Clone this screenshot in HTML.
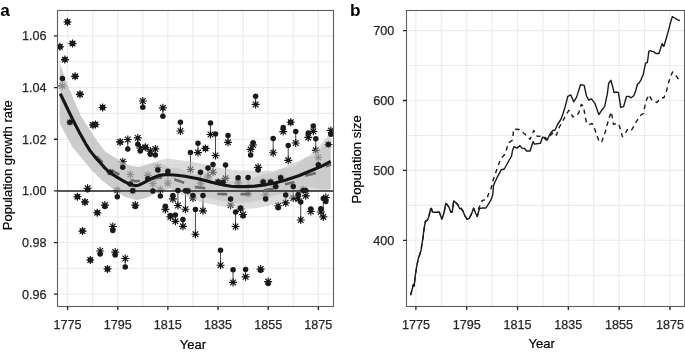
<!DOCTYPE html><html><head><meta charset="utf-8"><style>html,body{margin:0;padding:0;background:#fff;width:685px;height:352px;overflow:hidden}svg{display:block;filter:blur(0.35px)}</style></head><body>
<svg width="685" height="352" viewBox="0 0 685 352">
<rect width="685" height="352" fill="#fff"/>
<g stroke="#ebebeb" stroke-width="1.1" fill="none">
<line x1="67.60" y1="10.50" x2="67.60" y2="306.50"/>
<line x1="92.67" y1="10.50" x2="92.67" y2="306.50"/>
<line x1="117.74" y1="10.50" x2="117.74" y2="306.50"/>
<line x1="142.81" y1="10.50" x2="142.81" y2="306.50"/>
<line x1="167.88" y1="10.50" x2="167.88" y2="306.50"/>
<line x1="192.95" y1="10.50" x2="192.95" y2="306.50"/>
<line x1="218.02" y1="10.50" x2="218.02" y2="306.50"/>
<line x1="243.09" y1="10.50" x2="243.09" y2="306.50"/>
<line x1="268.16" y1="10.50" x2="268.16" y2="306.50"/>
<line x1="293.23" y1="10.50" x2="293.23" y2="306.50"/>
<line x1="318.30" y1="10.50" x2="318.30" y2="306.50"/>
<line x1="57.50" y1="294.22" x2="333.50" y2="294.22"/>
<line x1="57.50" y1="268.39" x2="333.50" y2="268.39"/>
<line x1="57.50" y1="242.56" x2="333.50" y2="242.56"/>
<line x1="57.50" y1="216.73" x2="333.50" y2="216.73"/>
<line x1="57.50" y1="190.90" x2="333.50" y2="190.90"/>
<line x1="57.50" y1="165.07" x2="333.50" y2="165.07"/>
<line x1="57.50" y1="139.24" x2="333.50" y2="139.24"/>
<line x1="57.50" y1="113.41" x2="333.50" y2="113.41"/>
<line x1="57.50" y1="87.58" x2="333.50" y2="87.58"/>
<line x1="57.50" y1="61.75" x2="333.50" y2="61.75"/>
<line x1="57.50" y1="35.92" x2="333.50" y2="35.92"/>
</g>
<g stroke="#ebebeb" stroke-width="1.1" fill="none">
<line x1="415.90" y1="10.50" x2="415.90" y2="306.50"/>
<line x1="441.30" y1="10.50" x2="441.30" y2="306.50"/>
<line x1="466.71" y1="10.50" x2="466.71" y2="306.50"/>
<line x1="492.12" y1="10.50" x2="492.12" y2="306.50"/>
<line x1="517.52" y1="10.50" x2="517.52" y2="306.50"/>
<line x1="542.92" y1="10.50" x2="542.92" y2="306.50"/>
<line x1="568.33" y1="10.50" x2="568.33" y2="306.50"/>
<line x1="593.74" y1="10.50" x2="593.74" y2="306.50"/>
<line x1="619.14" y1="10.50" x2="619.14" y2="306.50"/>
<line x1="644.54" y1="10.50" x2="644.54" y2="306.50"/>
<line x1="669.95" y1="10.50" x2="669.95" y2="306.50"/>
<line x1="406.50" y1="275.25" x2="684.50" y2="275.25"/>
<line x1="406.50" y1="240.30" x2="684.50" y2="240.30"/>
<line x1="406.50" y1="205.35" x2="684.50" y2="205.35"/>
<line x1="406.50" y1="170.40" x2="684.50" y2="170.40"/>
<line x1="406.50" y1="135.45" x2="684.50" y2="135.45"/>
<line x1="406.50" y1="100.50" x2="684.50" y2="100.50"/>
<line x1="406.50" y1="65.55" x2="684.50" y2="65.55"/>
<line x1="406.50" y1="30.60" x2="684.50" y2="30.60"/>
</g>
<defs><clipPath id="ca"><rect x="57.5" y="10.5" width="276.0" height="296.0"/></clipPath><clipPath id="cb"><rect x="406.5" y="10.5" width="278.0" height="296.0"/></clipPath></defs>
<g clip-path="url(#ca)">
<path d="M62.40,78.60L62.40,85.80M87.60,189.70L87.60,188.20M100.20,253.90L100.20,251.00M104.90,206.60L104.90,205.10M112.80,230.50L112.80,226.50M115.20,255.00L115.20,252.10M117.30,196.70L117.30,190.30M122.75,167.30L122.75,161.70M125.26,266.90L125.26,258.50M127.77,149.10L127.77,139.50M130.28,184.00L130.28,174.50M135.29,206.60L135.29,205.10M137.80,144.30L137.80,137.90M140.30,151.00L140.30,148.00M142.81,107.30L142.81,101.00M147.82,178.80L147.82,175.30M150.33,154.20L150.33,151.10M152.84,191.00L152.84,183.50M155.34,155.10L155.34,148.90M157.85,170.00L157.85,167.50M160.36,195.90L160.36,189.70M162.87,116.30L162.87,107.80M165.37,206.30L165.37,209.40M167.88,171.30L167.88,183.20M170.39,215.40L170.39,216.90M172.89,195.40L172.89,198.90M175.40,215.10L175.40,221.30M177.91,190.60L177.91,205.50M180.42,122.20L180.42,131.00M182.92,219.50L182.92,226.30M185.43,190.80L185.43,209.20M190.44,152.40L190.44,169.50M192.95,195.50L192.95,198.00M195.46,209.40L195.46,234.20M197.96,143.30L197.96,152.60M200.47,172.20L200.47,183.20M202.98,195.40L202.98,210.80M207.99,168.00L207.99,177.00M210.50,123.10L210.50,134.50M213.01,164.40L213.01,172.20M215.51,134.10L215.51,155.50M220.53,250.30L220.53,265.20M225.54,165.10L225.54,178.30M228.05,135.60L228.05,142.30M230.56,198.90L230.56,205.20M233.06,269.80L233.06,282.40M235.57,212.10L235.57,226.50M238.08,177.70L238.08,182.80M240.58,207.90L240.58,209.00M243.09,215.70L243.09,214.50M245.60,269.50L245.60,276.80M248.10,177.50L248.10,193.80M250.61,155.10L250.61,149.30M253.12,142.70L253.12,145.00M255.62,96.30L255.62,104.40M258.13,170.00L258.13,167.30M260.64,270.30L260.64,269.10M265.65,199.10L265.65,194.70M268.16,283.60L268.16,281.60M273.17,138.50L273.17,152.70M278.19,207.70L278.19,205.70M283.20,127.50L283.20,131.60M285.71,195.00L285.71,202.80M288.22,145.40L288.22,160.30M293.23,186.50L293.23,198.00M295.74,131.40L295.74,143.00M298.24,194.60L298.24,199.00M300.75,202.00L300.75,220.00M303.26,190.40L303.26,189.40M305.76,190.40L305.76,195.80M308.27,133.00L308.27,137.40M310.78,209.10L310.78,211.50M313.29,125.90L313.29,131.30M315.79,138.70L315.79,150.30M318.30,164.70L318.30,157.50M320.81,208.80L320.81,212.00M323.31,198.50L323.31,216.90M325.82,201.60L325.82,197.60M330.84,134.20L330.84,130.40" stroke="#333" stroke-width="0.9" fill="none"/>
<path d="M55.90,46.80L63.90,46.80M57.07,43.97L62.73,49.63M59.90,42.80L59.90,50.80M62.73,43.97L57.07,49.63M58.40,85.80L66.40,85.80M59.57,82.97L65.23,88.63M62.40,81.80L62.40,89.80M65.23,82.97L59.57,88.63M60.90,59.60L68.90,59.60M62.07,56.77L67.73,62.43M64.90,55.60L64.90,63.60M67.73,56.77L62.07,62.43M63.50,22.00L71.50,22.00M64.67,19.17L70.33,24.83M67.50,18.00L67.50,26.00M70.33,19.17L64.67,24.83M65.90,122.20L73.90,122.20M67.07,119.37L72.73,125.03M69.90,118.20L69.90,126.20M72.73,119.37L67.07,125.03M68.50,43.60L76.50,43.60M69.67,40.77L75.33,46.43M72.50,39.60L72.50,47.60M75.33,40.77L69.67,46.43M71.10,76.30L79.10,76.30M72.27,73.47L77.93,79.13M75.10,72.30L75.10,80.30M77.93,73.47L72.27,79.13M73.40,196.70L81.40,196.70M74.57,193.87L80.23,199.53M77.40,192.70L77.40,200.70M80.23,193.87L74.57,199.53M76.00,94.30L84.00,94.30M77.17,91.47L82.83,97.13M80.00,90.30L80.00,98.30M82.83,91.47L77.17,97.13M78.50,231.10L86.50,231.10M79.67,228.27L85.33,233.93M82.50,227.10L82.50,235.10M85.33,228.27L79.67,233.93M81.00,201.90L89.00,201.90M82.17,199.07L87.83,204.73M85.00,197.90L85.00,205.90M87.83,199.07L82.17,204.73M83.60,188.20L91.60,188.20M84.77,185.37L90.43,191.03M87.60,184.20L87.60,192.20M90.43,185.37L84.77,191.03M86.30,260.00L94.30,260.00M87.47,257.17L93.13,262.83M90.30,256.00L90.30,264.00M93.13,257.17L87.47,262.83M89.00,125.00L97.00,125.00M90.17,122.17L95.83,127.83M93.00,121.00L93.00,129.00M95.83,122.17L90.17,127.83M91.50,124.50L99.50,124.50M92.67,121.67L98.33,127.33M95.50,120.50L95.50,128.50M98.33,121.67L92.67,127.33M93.30,212.70L101.30,212.70M94.47,209.87L100.13,215.53M97.30,208.70L97.30,216.70M100.13,209.87L94.47,215.53M96.20,251.00L104.20,251.00M97.37,248.17L103.03,253.83M100.20,247.00L100.20,255.00M103.03,248.17L97.37,253.83M98.60,107.50L106.60,107.50M99.77,104.67L105.43,110.33M102.60,103.50L102.60,111.50M105.43,104.67L99.77,110.33M100.90,205.10L108.90,205.10M102.07,202.27L107.73,207.93M104.90,201.10L104.90,209.10M107.73,202.27L102.07,207.93M103.50,269.00L111.50,269.00M104.67,266.17L110.33,271.83M107.50,265.00L107.50,273.00M110.33,266.17L104.67,271.83M106.20,172.20L114.20,172.20M107.37,169.37L113.03,175.03M110.20,168.20L110.20,176.20M113.03,169.37L107.37,175.03M108.80,226.50L116.80,226.50M109.97,223.67L115.63,229.33M112.80,222.50L112.80,230.50M115.63,223.67L109.97,229.33M111.20,252.10L119.20,252.10M112.37,249.27L118.03,254.93M115.20,248.10L115.20,256.10M118.03,249.27L112.37,254.93M113.30,190.30L121.30,190.30M114.47,187.47L120.13,193.13M117.30,186.30L117.30,194.30M120.13,187.47L114.47,193.13M116.10,141.90L124.10,141.90M117.27,139.07L122.93,144.73M120.10,137.90L120.10,145.90M122.93,139.07L117.27,144.73M118.75,161.70L126.75,161.70M119.93,158.87L125.58,164.53M122.75,157.70L122.75,165.70M125.58,158.87L119.93,164.53M121.26,258.50L129.26,258.50M122.43,255.67L128.09,261.33M125.26,254.50L125.26,262.50M128.09,255.67L122.43,261.33M123.77,139.50L131.77,139.50M124.94,136.67L130.60,142.33M127.77,135.50L127.77,143.50M130.60,136.67L124.94,142.33M126.28,174.50L134.28,174.50M127.45,171.67L133.10,177.33M130.28,170.50L130.28,178.50M133.10,171.67L127.45,177.33M128.78,190.80L136.78,190.80M129.95,187.97L135.61,193.63M132.78,186.80L132.78,194.80M135.61,187.97L129.95,193.63M131.29,205.10L139.29,205.10M132.46,202.27L138.12,207.93M135.29,201.10L135.29,209.10M138.12,202.27L132.46,207.93M133.80,137.90L141.80,137.90M134.97,135.07L140.62,140.73M137.80,133.90L137.80,141.90M140.62,135.07L134.97,140.73M136.30,148.00L144.30,148.00M137.47,145.17L143.13,150.83M140.30,144.00L140.30,152.00M143.13,145.17L137.47,150.83M138.81,101.00L146.81,101.00M139.98,98.17L145.64,103.83M142.81,97.00L142.81,105.00M145.64,98.17L139.98,103.83M141.32,147.20L149.32,147.20M142.49,144.37L148.15,150.03M145.32,143.20L145.32,151.20M148.15,144.37L142.49,150.03M143.82,175.30L151.82,175.30M145.00,172.47L150.65,178.13M147.82,171.30L147.82,179.30M150.65,172.47L145.00,178.13M146.33,151.10L154.33,151.10M147.50,148.27L153.16,153.93M150.33,147.10L150.33,155.10M153.16,148.27L147.50,153.93M148.84,183.50L156.84,183.50M150.01,180.67L155.67,186.33M152.84,179.50L152.84,187.50M155.67,180.67L150.01,186.33M151.34,148.90L159.34,148.90M152.52,146.07L158.17,151.73M155.34,144.90L155.34,152.90M158.17,146.07L152.52,151.73M153.85,167.50L161.85,167.50M155.02,164.67L160.68,170.33M157.85,163.50L157.85,171.50M160.68,164.67L155.02,170.33M156.36,189.70L164.36,189.70M157.53,186.87L163.19,192.53M160.36,185.70L160.36,193.70M163.19,186.87L157.53,192.53M158.87,107.80L166.87,107.80M160.04,104.97L165.69,110.63M162.87,103.80L162.87,111.80M165.69,104.97L160.04,110.63M161.37,209.40L169.37,209.40M162.54,206.57L168.20,212.23M165.37,205.40L165.37,213.40M168.20,206.57L162.54,212.23M163.88,183.20L171.88,183.20M165.05,180.37L170.71,186.03M167.88,179.20L167.88,187.20M170.71,180.37L165.05,186.03M166.39,216.90L174.39,216.90M167.56,214.07L173.22,219.73M170.39,212.90L170.39,220.90M173.22,214.07L167.56,219.73M168.89,198.90L176.89,198.90M170.07,196.07L175.72,201.73M172.89,194.90L172.89,202.90M175.72,196.07L170.07,201.73M171.40,221.30L179.40,221.30M172.57,218.47L178.23,224.13M175.40,217.30L175.40,225.30M178.23,218.47L172.57,224.13M173.91,205.50L181.91,205.50M175.08,202.67L180.74,208.33M177.91,201.50L177.91,209.50M180.74,202.67L175.08,208.33M176.42,131.00L184.42,131.00M177.59,128.17L183.24,133.83M180.42,127.00L180.42,135.00M183.24,128.17L177.59,133.83M178.92,226.30L186.92,226.30M180.09,223.47L185.75,229.13M182.92,222.30L182.92,230.30M185.75,223.47L180.09,229.13M181.43,209.20L189.43,209.20M182.60,206.37L188.26,212.03M185.43,205.20L185.43,213.20M188.26,206.37L182.60,212.03M183.94,191.00L191.94,191.00M185.11,188.17L190.76,193.83M187.94,187.00L187.94,195.00M190.76,188.17L185.11,193.83M186.44,169.50L194.44,169.50M187.61,166.67L193.27,172.33M190.44,165.50L190.44,173.50M193.27,166.67L187.61,172.33M188.95,198.00L196.95,198.00M190.12,195.17L195.78,200.83M192.95,194.00L192.95,202.00M195.78,195.17L190.12,200.83M191.46,234.20L199.46,234.20M192.63,231.37L198.29,237.03M195.46,230.20L195.46,238.20M198.29,231.37L192.63,237.03M193.96,152.60L201.96,152.60M195.14,149.77L200.79,155.43M197.96,148.60L197.96,156.60M200.79,149.77L195.14,155.43M196.47,183.20L204.47,183.20M197.64,180.37L203.30,186.03M200.47,179.20L200.47,187.20M203.30,180.37L197.64,186.03M198.98,210.80L206.98,210.80M200.15,207.97L205.81,213.63M202.98,206.80L202.98,214.80M205.81,207.97L200.15,213.63M201.49,148.40L209.49,148.40M202.66,145.57L208.31,151.23M205.49,144.40L205.49,152.40M208.31,145.57L202.66,151.23M203.99,177.00L211.99,177.00M205.16,174.17L210.82,179.83M207.99,173.00L207.99,181.00M210.82,174.17L205.16,179.83M206.50,134.50L214.50,134.50M207.67,131.67L213.33,137.33M210.50,130.50L210.50,138.50M213.33,131.67L207.67,137.33M209.01,172.20L217.01,172.20M210.18,169.37L215.83,175.03M213.01,168.20L213.01,176.20M215.83,169.37L210.18,175.03M211.51,155.50L219.51,155.50M212.68,152.67L218.34,158.33M215.51,151.50L215.51,159.50M218.34,152.67L212.68,158.33M214.02,182.00L222.02,182.00M215.19,179.17L220.85,184.83M218.02,178.00L218.02,186.00M220.85,179.17L215.19,184.83M216.53,265.20L224.53,265.20M217.70,262.37L223.36,268.03M220.53,261.20L220.53,269.20M223.36,262.37L217.70,268.03M219.03,182.50L227.03,182.50M220.21,179.67L225.86,185.33M223.03,178.50L223.03,186.50M225.86,179.67L220.21,185.33M221.54,178.30L229.54,178.30M222.71,175.47L228.37,181.13M225.54,174.30L225.54,182.30M228.37,175.47L222.71,181.13M224.05,142.30L232.05,142.30M225.22,139.47L230.88,145.13M228.05,138.30L228.05,146.30M230.88,139.47L225.22,145.13M226.56,205.20L234.56,205.20M227.73,202.37L233.38,208.03M230.56,201.20L230.56,209.20M233.38,202.37L227.73,208.03M229.06,282.40L237.06,282.40M230.23,279.57L235.89,285.23M233.06,278.40L233.06,286.40M235.89,279.57L230.23,285.23M231.57,226.50L239.57,226.50M232.74,223.67L238.40,229.33M235.57,222.50L235.57,230.50M238.40,223.67L232.74,229.33M234.08,182.80L242.08,182.80M235.25,179.97L240.90,185.63M238.08,178.80L238.08,186.80M240.90,179.97L235.25,185.63M236.58,209.00L244.58,209.00M237.75,206.17L243.41,211.83M240.58,205.00L240.58,213.00M243.41,206.17L237.75,211.83M239.09,214.50L247.09,214.50M240.26,211.67L245.92,217.33M243.09,210.50L243.09,218.50M245.92,211.67L240.26,217.33M241.60,276.80L249.60,276.80M242.77,273.97L248.43,279.63M245.60,272.80L245.60,280.80M248.43,273.97L242.77,279.63M244.10,193.80L252.10,193.80M245.28,190.97L250.93,196.63M248.10,189.80L248.10,197.80M250.93,190.97L245.28,196.63M246.61,149.30L254.61,149.30M247.78,146.47L253.44,152.13M250.61,145.30L250.61,153.30M253.44,146.47L247.78,152.13M249.12,145.00L257.12,145.00M250.29,142.17L255.95,147.83M253.12,141.00L253.12,149.00M255.95,142.17L250.29,147.83M251.62,104.40L259.62,104.40M252.80,101.57L258.45,107.23M255.62,100.40L255.62,108.40M258.45,101.57L252.80,107.23M254.13,167.30L262.13,167.30M255.30,164.47L260.96,170.13M258.13,163.30L258.13,171.30M260.96,164.47L255.30,170.13M256.64,269.10L264.64,269.10M257.81,266.27L263.47,271.93M260.64,265.10L260.64,273.10M263.47,266.27L257.81,271.93M259.15,182.00L267.15,182.00M260.32,179.17L265.97,184.83M263.15,178.00L263.15,186.00M265.97,179.17L260.32,184.83M261.65,194.70L269.65,194.70M262.82,191.87L268.48,197.53M265.65,190.70L265.65,198.70M268.48,191.87L262.82,197.53M264.16,281.60L272.16,281.60M265.33,278.77L270.99,284.43M268.16,277.60L268.16,285.60M270.99,278.77L265.33,284.43M266.67,181.90L274.67,181.90M267.84,179.07L273.50,184.73M270.67,177.90L270.67,185.90M273.50,179.07L267.84,184.73M269.17,152.70L277.17,152.70M270.35,149.87L276.00,155.53M273.17,148.70L273.17,156.70M276.00,149.87L270.35,155.53M271.68,186.50L279.68,186.50M272.85,183.67L278.51,189.33M275.68,182.50L275.68,190.50M278.51,183.67L272.85,189.33M274.19,205.70L282.19,205.70M275.36,202.87L281.02,208.53M278.19,201.70L278.19,209.70M281.02,202.87L275.36,208.53M276.69,177.70L284.69,177.70M277.87,174.87L283.52,180.53M280.69,173.70L280.69,181.70M283.52,174.87L277.87,180.53M279.20,131.60L287.20,131.60M280.37,128.77L286.03,134.43M283.20,127.60L283.20,135.60M286.03,128.77L280.37,134.43M281.71,202.80L289.71,202.80M282.88,199.97L288.54,205.63M285.71,198.80L285.71,206.80M288.54,199.97L282.88,205.63M284.22,160.30L292.22,160.30M285.39,157.47L291.04,163.13M288.22,156.30L288.22,164.30M291.04,157.47L285.39,163.13M286.72,122.20L294.72,122.20M287.89,119.37L293.55,125.03M290.72,118.20L290.72,126.20M293.55,119.37L287.89,125.03M289.23,198.00L297.23,198.00M290.40,195.17L296.06,200.83M293.23,194.00L293.23,202.00M296.06,195.17L290.40,200.83M291.74,143.00L299.74,143.00M292.91,140.17L298.57,145.83M295.74,139.00L295.74,147.00M298.57,140.17L292.91,145.83M294.24,199.00L302.24,199.00M295.42,196.17L301.07,201.83M298.24,195.00L298.24,203.00M301.07,196.17L295.42,201.83M296.75,220.00L304.75,220.00M297.92,217.17L303.58,222.83M300.75,216.00L300.75,224.00M303.58,217.17L297.92,222.83M299.26,189.40L307.26,189.40M300.43,186.57L306.09,192.23M303.26,185.40L303.26,193.40M306.09,186.57L300.43,192.23M301.76,195.80L309.76,195.80M302.94,192.97L308.59,198.63M305.76,191.80L305.76,199.80M308.59,192.97L302.94,198.63M304.27,137.40L312.27,137.40M305.44,134.57L311.10,140.23M308.27,133.40L308.27,141.40M311.10,134.57L305.44,140.23M306.78,211.50L314.78,211.50M307.95,208.67L313.61,214.33M310.78,207.50L310.78,215.50M313.61,208.67L307.95,214.33M309.29,131.30L317.29,131.30M310.46,128.47L316.11,134.13M313.29,127.30L313.29,135.30M316.11,128.47L310.46,134.13M311.79,150.30L319.79,150.30M312.96,147.47L318.62,153.13M315.79,146.30L315.79,154.30M318.62,147.47L312.96,153.13M314.30,157.50L322.30,157.50M315.47,154.67L321.13,160.33M318.30,153.50L318.30,161.50M321.13,154.67L315.47,160.33M316.81,212.00L324.81,212.00M317.98,209.17L323.64,214.83M320.81,208.00L320.81,216.00M323.64,209.17L317.98,214.83M319.31,216.90L327.31,216.90M320.49,214.07L326.14,219.73M323.31,212.90L323.31,220.90M326.14,214.07L320.49,219.73M321.82,197.60L329.82,197.60M322.99,194.77L328.65,200.43M325.82,193.60L325.82,201.60M328.65,194.77L322.99,200.43M324.33,144.50L332.33,144.50M325.50,141.67L331.16,147.33M328.33,140.50L328.33,148.50M331.16,141.67L325.50,147.33M326.84,130.40L334.84,130.40M328.01,127.57L333.66,133.23M330.84,126.40L330.84,134.40M333.66,127.57L328.01,133.23" stroke="#111" stroke-width="1.15" fill="none"/>
<path d="M59.8,64.0 L60.3,64.8 L60.8,66.1 L61.3,67.5 L61.8,68.9 L62.3,70.3 L62.8,71.7 L63.3,73.1 L63.8,74.4 L64.3,75.8 L64.8,77.2 L65.3,78.6 L65.8,80.0 L66.3,81.4 L66.8,82.8 L67.3,84.2 L67.8,85.5 L68.3,86.6 L68.8,87.8 L69.3,89.0 L69.8,90.2 L70.3,91.3 L70.8,92.5 L71.3,93.7 L71.8,94.9 L72.3,96.0 L72.8,97.2 L73.3,98.4 L73.8,99.6 L74.3,100.7 L74.8,101.9 L75.3,103.1 L75.8,104.3 L76.3,105.4 L76.8,106.6 L77.3,107.8 L77.8,109.0 L78.3,110.1 L78.8,111.3 L79.3,112.5 L79.8,113.7 L80.3,114.8 L80.8,116.0 L81.3,116.8 L81.8,117.5 L82.3,118.3 L82.8,119.1 L83.3,119.8 L83.8,120.6 L84.3,121.4 L84.8,122.2 L85.3,122.9 L85.8,123.7 L86.3,124.5 L86.8,125.2 L87.3,126.0 L87.8,126.8 L88.3,127.5 L88.8,128.3 L89.3,129.1 L89.8,129.8 L90.3,130.6 L90.8,131.4 L91.3,132.2 L91.8,132.9 L92.3,133.7 L92.8,134.5 L93.3,135.2 L93.8,136.0 L94.3,136.8 L94.8,137.5 L95.3,138.3 L95.8,139.1 L96.3,139.8 L96.8,140.5 L97.3,141.2 L97.8,141.9 L98.3,142.5 L98.8,143.2 L99.3,143.9 L99.8,144.5 L100.3,145.2 L100.8,145.9 L101.3,146.6 L101.8,147.2 L102.3,147.9 L102.8,148.6 L103.3,149.2 L103.8,149.9 L104.3,150.6 L104.8,151.2 L105.3,151.7 L105.8,152.0 L106.3,152.3 L106.8,152.6 L107.3,153.0 L107.8,153.3 L108.3,153.6 L108.8,153.9 L109.3,154.2 L109.8,154.5 L110.3,154.9 L110.8,155.2 L111.3,155.5 L111.8,155.8 L112.3,156.1 L112.8,156.5 L113.3,156.8 L113.8,157.1 L114.3,157.4 L114.8,157.7 L115.3,158.0 L115.8,158.3 L116.3,158.6 L116.8,158.9 L117.3,159.2 L117.8,159.5 L118.3,159.8 L118.8,160.1 L119.3,160.4 L119.8,160.7 L120.3,161.0 L120.8,161.3 L121.3,161.6 L121.8,161.9 L122.3,162.1 L122.8,162.4 L123.3,162.6 L123.8,162.8 L124.3,163.1 L124.8,163.3 L125.3,163.5 L125.8,163.8 L126.3,164.0 L126.8,164.2 L127.3,164.5 L127.8,164.7 L128.3,164.9 L128.8,165.2 L129.3,165.4 L129.8,165.6 L130.3,165.9 L130.8,166.0 L131.3,166.1 L131.8,166.1 L132.3,166.2 L132.8,166.3 L133.3,166.3 L133.8,166.4 L134.3,166.4 L134.8,166.5 L135.3,166.6 L135.8,166.6 L136.3,166.7 L136.8,166.7 L137.3,166.8 L137.8,166.8 L138.3,166.9 L138.8,167.0 L139.3,166.9 L139.8,166.8 L140.3,166.7 L140.8,166.5 L141.3,166.4 L141.8,166.2 L142.3,166.1 L142.8,166.0 L143.3,165.8 L143.8,165.7 L144.3,165.5 L144.8,165.4 L145.3,165.2 L145.8,165.1 L146.3,165.0 L146.8,164.8 L147.3,164.7 L147.8,164.5 L148.3,164.4 L148.8,164.2 L149.3,164.0 L149.8,163.8 L150.3,163.7 L150.8,163.5 L151.3,163.3 L151.8,163.1 L152.3,162.9 L152.8,162.8 L153.3,162.6 L153.8,162.4 L154.3,162.2 L154.8,162.1 L155.3,161.9 L155.8,161.7 L156.3,161.5 L156.8,161.3 L157.3,161.1 L157.8,160.9 L158.3,160.7 L158.8,160.5 L159.3,160.3 L159.8,160.1 L160.3,159.9 L160.8,159.8 L161.3,159.8 L161.8,159.7 L162.3,159.6 L162.8,159.5 L163.3,159.4 L163.8,159.3 L164.3,159.2 L164.8,159.1 L165.3,159.0 L165.8,158.9 L166.3,158.8 L166.8,158.7 L167.3,158.6 L167.8,158.5 L168.3,158.6 L168.8,158.6 L169.3,158.7 L169.8,158.8 L170.3,158.9 L170.8,158.9 L171.3,159.0 L171.8,159.1 L172.3,159.2 L172.8,159.2 L173.3,159.3 L173.8,159.4 L174.3,159.4 L174.8,159.5 L175.3,159.6 L175.8,159.7 L176.3,159.7 L176.8,159.8 L177.3,159.9 L177.8,159.9 L178.3,160.0 L178.8,160.0 L179.3,160.1 L179.8,160.1 L180.3,160.2 L180.8,160.3 L181.3,160.3 L181.8,160.4 L182.3,160.4 L182.8,160.5 L183.3,160.5 L183.8,160.6 L184.3,160.7 L184.8,160.7 L185.3,160.8 L185.8,160.8 L186.3,160.9 L186.8,160.9 L187.3,161.0 L187.8,161.1 L188.3,161.1 L188.8,161.2 L189.3,161.2 L189.8,161.3 L190.3,161.4 L190.8,161.5 L191.3,161.6 L191.8,161.7 L192.3,161.8 L192.8,161.9 L193.3,162.0 L193.8,162.1 L194.3,162.2 L194.8,162.3 L195.3,162.4 L195.8,162.5 L196.3,162.6 L196.8,162.6 L197.3,162.7 L197.8,162.8 L198.3,162.9 L198.8,163.0 L199.3,163.1 L199.8,163.2 L200.3,163.3 L200.8,163.4 L201.3,163.5 L201.8,163.6 L202.3,163.7 L202.8,163.9 L203.3,164.0 L203.8,164.1 L204.3,164.2 L204.8,164.4 L205.3,164.5 L205.8,164.6 L206.3,164.7 L206.8,164.9 L207.3,165.0 L207.8,165.1 L208.3,165.2 L208.8,165.3 L209.3,165.5 L209.8,165.6 L210.3,165.7 L210.8,165.8 L211.3,166.0 L211.8,166.1 L212.3,166.2 L212.8,166.3 L213.3,166.5 L213.8,166.6 L214.3,166.7 L214.8,166.8 L215.3,167.0 L215.8,167.1 L216.3,167.2 L216.8,167.3 L217.3,167.5 L217.8,167.6 L218.3,167.7 L218.8,167.8 L219.3,168.0 L219.8,168.1 L220.3,168.2 L220.8,168.3 L221.3,168.3 L221.8,168.4 L222.3,168.5 L222.8,168.5 L223.3,168.6 L223.8,168.6 L224.3,168.7 L224.8,168.8 L225.3,168.8 L225.8,168.9 L226.3,169.0 L226.8,169.0 L227.3,169.1 L227.8,169.1 L228.3,169.2 L228.8,169.3 L229.3,169.3 L229.8,169.4 L230.3,169.5 L230.8,169.5 L231.3,169.6 L231.8,169.6 L232.3,169.7 L232.8,169.8 L233.3,169.8 L233.8,169.9 L234.3,170.0 L234.8,170.0 L235.3,170.1 L235.8,170.1 L236.3,170.2 L236.8,170.3 L237.3,170.3 L237.8,170.4 L238.3,170.4 L238.8,170.4 L239.3,170.4 L239.8,170.4 L240.3,170.5 L240.8,170.5 L241.3,170.5 L241.8,170.5 L242.3,170.5 L242.8,170.5 L243.3,170.5 L243.8,170.5 L244.3,170.5 L244.8,170.5 L245.3,170.6 L245.8,170.6 L246.3,170.6 L246.8,170.6 L247.3,170.6 L247.8,170.6 L248.3,170.6 L248.8,170.6 L249.3,170.6 L249.8,170.7 L250.3,170.7 L250.8,170.7 L251.3,170.7 L251.8,170.7 L252.3,170.7 L252.8,170.7 L253.3,170.7 L253.8,170.7 L254.3,170.7 L254.8,170.8 L255.3,170.8 L255.8,170.8 L256.3,170.8 L256.8,170.8 L257.3,170.8 L257.8,170.8 L258.3,170.8 L258.8,170.8 L259.3,170.9 L259.8,170.9 L260.3,170.9 L260.8,170.9 L261.3,170.9 L261.8,170.9 L262.3,170.9 L262.8,170.9 L263.3,170.9 L263.8,170.8 L264.3,170.8 L264.8,170.8 L265.3,170.8 L265.8,170.8 L266.3,170.8 L266.8,170.8 L267.3,170.8 L267.8,170.8 L268.3,170.8 L268.8,170.7 L269.3,170.7 L269.8,170.7 L270.3,170.7 L270.8,170.7 L271.3,170.7 L271.8,170.7 L272.3,170.7 L272.8,170.7 L273.3,170.6 L273.8,170.6 L274.3,170.6 L274.8,170.6 L275.3,170.6 L275.8,170.4 L276.3,170.2 L276.8,170.0 L277.3,169.9 L277.8,169.7 L278.3,169.5 L278.8,169.3 L279.3,169.1 L279.8,168.9 L280.3,168.7 L280.8,168.6 L281.3,168.4 L281.8,168.2 L282.3,168.0 L282.8,167.8 L283.3,167.6 L283.8,167.4 L284.3,167.3 L284.8,167.1 L285.3,166.8 L285.8,166.6 L286.3,166.3 L286.8,166.1 L287.3,165.8 L287.8,165.6 L288.3,165.3 L288.8,165.1 L289.3,164.8 L289.8,164.6 L290.3,164.3 L290.8,164.1 L291.3,163.8 L291.8,163.6 L292.3,163.3 L292.8,163.1 L293.3,162.9 L293.8,162.7 L294.3,162.5 L294.8,162.3 L295.3,162.1 L295.8,161.9 L296.3,161.8 L296.8,161.6 L297.3,161.4 L297.8,161.2 L298.3,161.0 L298.8,160.8 L299.3,160.6 L299.8,160.4 L300.3,160.3 L300.8,160.1 L301.3,159.8 L301.8,159.6 L302.3,159.3 L302.8,159.1 L303.3,158.8 L303.8,158.5 L304.3,158.3 L304.8,158.0 L305.3,157.7 L305.8,157.5 L306.3,157.2 L306.8,156.9 L307.3,156.7 L307.8,156.4 L308.3,156.2 L308.8,155.8 L309.3,155.4 L309.8,154.9 L310.3,154.4 L310.8,154.0 L311.3,153.5 L311.8,153.0 L312.3,152.6 L312.8,152.1 L313.3,151.7 L313.8,151.2 L314.3,150.7 L314.8,150.3 L315.3,149.8 L315.8,149.3 L316.3,148.9 L316.8,148.4 L317.3,147.9 L317.8,147.5 L318.3,146.9 L318.8,146.4 L319.3,145.8 L319.8,145.2 L320.3,144.6 L320.8,144.0 L321.3,143.4 L321.8,142.8 L322.3,142.2 L322.8,141.7 L323.3,141.1 L323.8,140.5 L324.3,139.9 L324.8,139.3 L325.3,138.7 L325.8,138.1 L326.3,137.6 L326.8,137.0 L327.3,136.5 L327.8,136.0 L328.3,135.5 L328.8,135.0 L329.3,134.5 L329.8,134.0 L330.3,133.5 L330.8,133.0 L330.8,189.0 L330.3,189.1 L329.8,189.2 L329.3,189.3 L328.8,189.4 L328.3,189.4 L327.8,189.5 L327.3,189.6 L326.8,189.7 L326.3,189.8 L325.8,189.7 L325.3,189.7 L324.8,189.6 L324.3,189.6 L323.8,189.5 L323.3,189.5 L322.8,189.4 L322.3,189.4 L321.8,189.2 L321.3,189.0 L320.8,188.9 L320.3,188.7 L319.8,188.6 L319.3,188.4 L318.8,188.3 L318.3,188.1 L317.8,188.0 L317.3,188.0 L316.8,188.0 L316.3,187.9 L315.8,187.9 L315.3,187.9 L314.8,187.8 L314.3,187.8 L313.8,187.8 L313.3,187.7 L312.8,187.7 L312.3,187.7 L311.8,187.6 L311.3,187.6 L310.8,187.6 L310.3,187.5 L309.8,187.5 L309.3,187.4 L308.8,187.4 L308.3,187.5 L307.8,187.7 L307.3,187.8 L306.8,188.0 L306.3,188.1 L305.8,188.3 L305.3,188.4 L304.8,188.6 L304.3,188.7 L303.8,188.9 L303.3,189.0 L302.8,189.2 L302.3,189.3 L301.8,189.5 L301.3,189.6 L300.8,189.8 L300.3,190.0 L299.8,190.2 L299.3,190.4 L298.8,190.6 L298.3,190.7 L297.8,190.9 L297.3,191.0 L296.8,191.2 L296.3,191.3 L295.8,191.5 L295.3,191.6 L294.8,191.8 L294.3,191.9 L293.8,192.1 L293.3,192.2 L292.8,192.4 L292.3,192.4 L291.8,192.5 L291.3,192.6 L290.8,192.7 L290.3,192.8 L289.8,192.8 L289.3,192.9 L288.8,193.0 L288.3,193.1 L287.8,193.2 L287.3,193.2 L286.8,193.3 L286.3,193.4 L285.8,193.5 L285.3,193.6 L284.8,193.6 L284.3,193.7 L283.8,193.8 L283.3,193.9 L282.8,194.0 L282.3,194.0 L281.8,194.1 L281.3,194.2 L280.8,194.3 L280.3,194.4 L279.8,194.5 L279.3,194.5 L278.8,194.6 L278.3,194.7 L277.8,194.8 L277.3,194.9 L276.8,194.9 L276.3,195.0 L275.8,195.1 L275.3,195.2 L274.8,195.4 L274.3,195.6 L273.8,195.8 L273.3,196.0 L272.8,196.1 L272.3,196.3 L271.8,196.5 L271.3,196.7 L270.8,196.8 L270.3,197.0 L269.8,197.2 L269.3,197.4 L268.8,197.6 L268.3,197.7 L267.8,197.9 L267.3,198.1 L266.8,198.3 L266.3,198.4 L265.8,198.6 L265.3,198.7 L264.8,198.8 L264.3,198.9 L263.8,199.0 L263.3,199.2 L262.8,199.3 L262.3,199.4 L261.8,199.5 L261.3,199.6 L260.8,199.8 L260.3,199.9 L259.8,200.1 L259.3,200.2 L258.8,200.4 L258.3,200.5 L257.8,200.6 L257.3,200.8 L256.8,200.9 L256.3,201.1 L255.8,201.2 L255.3,201.4 L254.8,201.5 L254.3,201.5 L253.8,201.6 L253.3,201.6 L252.8,201.7 L252.3,201.8 L251.8,201.8 L251.3,201.9 L250.8,201.9 L250.3,202.0 L249.8,202.1 L249.3,202.1 L248.8,202.2 L248.3,202.2 L247.8,202.3 L247.3,202.4 L246.8,202.4 L246.3,202.5 L245.8,202.6 L245.3,202.6 L244.8,202.7 L244.3,202.7 L243.8,202.7 L243.3,202.7 L242.8,202.7 L242.3,202.7 L241.8,202.7 L241.3,202.7 L240.8,202.7 L240.3,202.7 L239.8,202.8 L239.3,202.8 L238.8,202.8 L238.3,202.8 L237.8,202.8 L237.3,202.8 L236.8,202.8 L236.3,202.9 L235.8,202.9 L235.3,202.9 L234.8,202.9 L234.3,202.9 L233.8,203.0 L233.3,203.0 L232.8,203.0 L232.3,203.0 L231.8,203.0 L231.3,203.0 L230.8,203.0 L230.3,202.9 L229.8,202.8 L229.3,202.7 L228.8,202.6 L228.3,202.5 L227.8,202.4 L227.3,202.2 L226.8,202.1 L226.3,202.0 L225.8,201.9 L225.3,201.8 L224.8,201.7 L224.3,201.6 L223.8,201.4 L223.3,201.3 L222.8,201.1 L222.3,201.0 L221.8,200.8 L221.3,200.7 L220.8,200.5 L220.3,200.4 L219.8,200.3 L219.3,200.2 L218.8,200.1 L218.3,200.0 L217.8,199.9 L217.3,199.8 L216.8,199.7 L216.3,199.6 L215.8,199.4 L215.3,199.3 L214.8,199.2 L214.3,199.1 L213.8,199.0 L213.3,198.8 L212.8,198.7 L212.3,198.6 L211.8,198.5 L211.3,198.4 L210.8,198.2 L210.3,198.1 L209.8,198.0 L209.3,197.9 L208.8,197.7 L208.3,197.6 L207.8,197.5 L207.3,197.4 L206.8,197.2 L206.3,197.1 L205.8,197.0 L205.3,196.9 L204.8,196.7 L204.3,196.6 L203.8,196.5 L203.3,196.3 L202.8,196.2 L202.3,196.0 L201.8,195.9 L201.3,195.7 L200.8,195.5 L200.3,195.4 L199.8,195.2 L199.3,195.0 L198.8,194.9 L198.3,194.7 L197.8,194.6 L197.3,194.5 L196.8,194.4 L196.3,194.4 L195.8,194.3 L195.3,194.2 L194.8,194.1 L194.3,194.0 L193.8,193.9 L193.3,193.9 L192.8,193.8 L192.3,193.7 L191.8,193.6 L191.3,193.5 L190.8,193.4 L190.3,193.4 L189.8,193.2 L189.3,193.1 L188.8,193.0 L188.3,192.8 L187.8,192.7 L187.3,192.5 L186.8,192.4 L186.3,192.2 L185.8,192.1 L185.3,192.0 L184.8,191.8 L184.3,191.8 L183.8,191.7 L183.3,191.6 L182.8,191.6 L182.3,191.5 L181.8,191.5 L181.3,191.4 L180.8,191.3 L180.3,191.3 L179.8,191.2 L179.3,191.1 L178.8,191.1 L178.3,191.0 L177.8,190.9 L177.3,190.9 L176.8,190.8 L176.3,190.8 L175.8,190.8 L175.3,190.8 L174.8,190.8 L174.3,190.8 L173.8,190.7 L173.3,190.4 L172.8,190.1 L172.3,189.8 L171.8,189.6 L171.3,189.3 L170.8,189.0 L170.3,188.7 L169.8,188.6 L169.3,188.7 L168.8,188.9 L168.3,189.0 L167.8,189.2 L167.3,189.4 L166.8,189.5 L166.3,189.7 L165.8,189.9 L165.3,190.0 L164.8,190.2 L164.3,190.3 L163.8,190.5 L163.3,190.5 L162.8,190.5 L162.3,190.5 L161.8,190.5 L161.3,190.5 L160.8,190.6 L160.3,190.6 L159.8,190.6 L159.3,190.5 L158.8,190.6 L158.3,190.8 L157.8,191.0 L157.3,191.2 L156.8,191.4 L156.3,191.6 L155.8,191.8 L155.3,192.0 L154.8,192.2 L154.3,192.5 L153.8,192.7 L153.3,192.9 L152.8,193.2 L152.3,193.4 L151.8,193.7 L151.3,194.0 L150.8,194.4 L150.3,194.7 L149.8,195.1 L149.3,195.4 L148.8,195.8 L148.3,196.1 L147.8,196.5 L147.3,196.9 L146.8,197.3 L146.3,197.7 L145.8,198.0 L145.3,198.1 L144.8,198.2 L144.3,198.3 L143.8,198.4 L143.3,198.5 L142.8,198.6 L142.3,198.8 L141.8,198.9 L141.3,199.0 L140.8,199.1 L140.3,199.2 L139.8,199.3 L139.3,199.4 L138.8,199.5 L138.3,199.6 L137.8,199.7 L137.3,199.8 L136.8,199.9 L136.3,199.8 L135.8,199.7 L135.3,199.5 L134.8,199.4 L134.3,199.3 L133.8,199.2 L133.3,199.0 L132.8,198.9 L132.3,198.8 L131.8,198.6 L131.3,198.5 L130.8,198.4 L130.3,198.3 L129.8,198.1 L129.3,198.0 L128.8,197.9 L128.3,197.7 L127.8,197.6 L127.3,197.5 L126.8,197.4 L126.3,197.2 L125.8,197.1 L125.3,197.0 L124.8,196.8 L124.3,196.4 L123.8,196.1 L123.3,195.8 L122.8,195.5 L122.3,195.1 L121.8,194.8 L121.3,194.5 L120.8,194.1 L120.3,193.8 L119.8,193.5 L119.3,193.2 L118.8,192.8 L118.3,192.5 L117.8,192.2 L117.3,191.9 L116.8,191.5 L116.3,191.2 L115.8,190.9 L115.3,190.5 L114.8,190.2 L114.3,189.9 L113.8,189.6 L113.3,189.2 L112.8,188.8 L112.3,188.4 L111.8,188.0 L111.3,187.6 L110.8,187.2 L110.3,186.8 L109.8,186.4 L109.3,186.0 L108.8,185.6 L108.3,185.2 L107.8,184.8 L107.3,184.5 L106.8,184.1 L106.3,183.7 L105.8,183.3 L105.3,182.9 L104.8,182.5 L104.3,182.1 L103.8,181.7 L103.3,181.3 L102.8,180.9 L102.3,180.5 L101.8,180.1 L101.3,179.6 L100.8,179.1 L100.3,178.6 L99.8,178.1 L99.3,177.7 L98.8,177.2 L98.3,176.7 L97.8,176.2 L97.3,175.7 L96.8,175.2 L96.3,174.7 L95.8,174.2 L95.3,173.7 L94.8,173.2 L94.3,172.8 L93.8,172.3 L93.3,171.8 L92.8,171.3 L92.3,170.8 L91.8,170.2 L91.3,169.6 L90.8,169.0 L90.3,168.4 L89.8,167.8 L89.3,167.2 L88.8,166.6 L88.3,166.0 L87.8,165.4 L87.3,164.8 L86.8,164.2 L86.3,163.6 L85.8,163.0 L85.3,162.4 L84.8,161.8 L84.3,161.2 L83.8,160.6 L83.3,160.0 L82.8,159.4 L82.3,158.8 L81.8,158.2 L81.3,157.6 L80.8,157.0 L80.3,156.4 L79.8,155.8 L79.3,155.2 L78.8,154.6 L78.3,154.0 L77.8,153.4 L77.3,152.9 L76.8,152.3 L76.3,151.7 L75.8,151.1 L75.3,150.5 L74.8,149.9 L74.3,149.3 L73.8,148.7 L73.3,148.1 L72.8,147.5 L72.3,146.8 L71.8,145.9 L71.3,144.9 L70.8,144.0 L70.3,143.1 L69.8,142.1 L69.3,141.2 L68.8,140.3 L68.3,139.4 L67.8,138.4 L67.3,137.5 L66.8,136.6 L66.3,135.6 L65.8,134.7 L65.3,133.8 L64.8,132.8 L64.3,131.9 L63.8,131.0 L63.3,130.0 L62.8,129.1 L62.3,128.2 L61.8,127.2 L61.3,126.3 L60.8,125.4 L60.3,124.0 L59.8,122.0 Z" fill="#bbb" fill-opacity="0.5"/>
<path d="M59.8,64.0 L60.3,64.8 L60.8,66.1 L61.3,67.5 L61.8,68.9 L62.3,70.3 L62.8,71.7 L63.3,73.1 L63.8,74.4 L64.3,75.8 L64.8,77.2 L65.3,78.6 L65.8,80.0 L66.3,81.4 L66.8,82.8 L67.3,84.2 L67.8,85.5 L68.3,86.6 L68.8,87.8 L69.3,89.0 L69.8,90.2 L70.3,91.3 L70.8,92.5 L71.3,93.7 L71.8,94.9 L72.3,96.0 L72.8,97.2 L73.3,98.4 L73.8,99.6 L74.3,100.7 L74.8,101.9 L75.3,103.1 L75.8,104.3 L76.3,105.4 L76.8,106.6 L77.3,107.8 L77.8,109.0 L78.3,110.1 L78.8,111.3 L79.3,112.5 L79.8,113.7 L80.3,114.8 L80.8,116.0 L81.3,116.8 L81.8,117.5 L82.3,118.3 L82.8,119.1 L83.3,119.8 L83.8,120.6 L84.3,121.4 L84.8,122.2 L85.3,122.9 L85.8,123.7 L86.3,124.5 L86.8,125.2 L87.3,126.0 L87.8,126.8 L88.3,127.5 L88.8,128.3 L89.3,129.1 L89.8,129.8 L90.3,130.6 L90.8,131.4 L91.3,132.2 L91.8,132.9 L92.3,133.7 L92.8,134.5 L93.3,135.2 L93.8,136.0 L94.3,136.8 L94.8,137.5 L95.3,138.3 L95.8,139.1 L96.3,139.8 L96.8,140.5 L97.3,141.2 L97.8,141.9 L98.3,142.5 L98.8,143.2 L99.3,143.9 L99.8,144.5 L100.3,145.2 L100.8,145.9 L101.3,146.6 L101.8,147.2 L102.3,147.9 L102.8,148.6 L103.3,149.2 L103.8,149.9 L104.3,150.6 L104.8,151.2 L105.3,151.7 L105.8,152.0 L106.3,152.3 L106.8,152.6 L107.3,153.0 L107.8,153.3 L108.3,153.6 L108.8,153.9 L109.3,154.2 L109.8,154.5 L110.3,154.9 L110.8,155.2 L111.3,155.5 L111.8,155.8 L112.3,156.1 L112.8,156.5 L113.3,156.8 L113.8,157.1 L114.3,157.4 L114.8,157.7 L115.3,158.0 L115.8,158.3 L116.3,158.6 L116.8,158.9 L117.3,159.2 L117.8,159.5 L118.3,159.8 L118.8,160.1 L119.3,160.4 L119.8,160.7 L120.3,161.0 L120.8,161.3 L121.3,161.6 L121.8,161.9 L122.3,162.1 L122.8,162.4 L123.3,162.6 L123.8,162.8 L124.3,163.1 L124.8,163.3 L125.3,163.5 L125.8,163.8 L126.3,164.0 L126.8,164.2 L127.3,164.5 L127.8,164.7 L128.3,164.9 L128.8,165.2 L129.3,165.4 L129.8,165.6 L130.3,165.9 L130.8,166.0 L131.3,166.1 L131.8,166.1 L132.3,166.2 L132.8,166.3 L133.3,166.3 L133.8,166.4 L134.3,166.4 L134.8,166.5 L135.3,166.6 L135.8,166.6 L136.3,166.7 L136.8,166.7 L137.3,166.8 L137.8,166.8 L138.3,166.9 L138.8,167.0 L139.3,166.9 L139.8,166.8 L140.3,166.7 L140.8,166.5 L141.3,166.4 L141.8,166.2 L142.3,166.1 L142.8,166.0 L143.3,165.8 L143.8,165.7 L144.3,165.5 L144.8,165.4 L145.3,165.2 L145.8,165.1 L146.3,165.0 L146.8,164.8 L147.3,164.7 L147.8,164.5 L148.3,164.4 L148.8,164.2 L149.3,164.0 L149.8,163.8 L150.3,163.7 L150.8,163.5 L151.3,163.3 L151.8,163.1 L152.3,162.9 L152.8,162.8 L153.3,162.6 L153.8,162.4 L154.3,162.3 L154.8,162.4 L155.3,162.4 L155.8,162.5 L156.3,162.6 L156.8,162.7 L157.3,162.8 L157.8,162.9 L158.3,163.0 L158.8,163.0 L159.3,163.1 L159.8,163.2 L160.3,163.4 L160.8,163.6 L161.3,163.8 L161.8,164.0 L162.3,164.2 L162.8,164.4 L163.3,164.6 L163.8,164.8 L164.3,165.0 L164.8,165.2 L165.3,165.4 L165.8,165.6 L166.3,165.8 L166.8,166.0 L167.3,166.4 L167.8,166.7 L168.3,167.1 L168.8,167.5 L169.3,167.8 L169.8,168.2 L170.3,168.3 L170.8,168.2 L171.3,168.1 L171.8,168.0 L172.3,167.9 L172.8,167.8 L173.3,167.8 L173.8,167.7 L174.3,167.6 L174.8,167.6 L175.3,167.7 L175.8,167.8 L176.3,167.8 L176.8,167.9 L177.3,167.9 L177.8,168.1 L178.3,168.2 L178.8,168.4 L179.3,168.5 L179.8,168.7 L180.3,168.8 L180.8,169.0 L181.3,169.2 L181.8,169.3 L182.3,169.5 L182.8,169.6 L183.3,169.8 L183.8,169.9 L184.3,170.1 L184.8,170.3 L185.3,170.5 L185.8,170.8 L186.3,171.0 L186.8,171.2 L187.3,171.4 L187.8,171.6 L188.3,171.9 L188.8,172.1 L189.3,172.3 L189.8,172.5 L190.3,172.7 L190.8,172.9 L191.3,173.2 L191.8,173.4 L192.3,173.6 L192.8,173.8 L193.3,174.0 L193.8,174.2 L194.3,174.5 L194.8,174.4 L195.3,174.3 L195.8,174.2 L196.3,174.1 L196.8,174.0 L197.3,173.9 L197.8,173.8 L198.3,173.7 L198.8,173.6 L199.3,173.5 L199.8,173.4 L200.3,173.3 L200.8,173.2 L201.3,173.2 L201.8,173.2 L202.3,173.2 L202.8,173.2 L203.3,173.3 L203.8,173.3 L204.3,173.3 L204.8,173.3 L205.3,173.3 L205.8,173.5 L206.3,173.9 L206.8,174.3 L207.3,174.7 L207.8,175.1 L208.3,175.5 L208.8,175.9 L209.3,176.3 L209.8,176.6 L210.3,177.0 L210.8,177.4 L211.3,177.8 L211.8,178.2 L212.3,178.6 L212.8,179.0 L213.3,179.4 L213.8,179.7 L214.3,180.1 L214.8,180.5 L215.3,180.9 L215.8,181.3 L216.3,181.7 L216.8,182.1 L217.3,182.4 L217.8,182.4 L218.3,182.4 L218.8,182.3 L219.3,182.2 L219.8,182.1 L220.3,182.0 L220.8,182.0 L221.3,181.9 L221.8,181.8 L222.3,181.7 L222.8,181.6 L223.3,181.5 L223.8,181.5 L224.3,181.4 L224.8,181.4 L225.3,181.3 L225.8,181.3 L226.3,181.3 L226.8,181.3 L227.3,181.2 L227.8,181.2 L228.3,181.1 L228.8,181.1 L229.3,181.1 L229.8,181.0 L230.3,181.0 L230.8,180.9 L231.3,180.9 L231.8,180.8 L232.3,180.8 L232.8,180.7 L233.3,180.7 L233.8,180.7 L234.3,180.6 L234.8,180.6 L235.3,180.5 L235.8,180.5 L236.3,180.4 L236.8,180.4 L237.3,180.3 L237.8,180.3 L238.3,180.3 L238.8,180.2 L239.3,180.2 L239.8,180.1 L240.3,180.1 L240.8,180.0 L241.3,179.9 L241.8,179.8 L242.3,179.7 L242.8,179.6 L243.3,179.5 L243.8,179.4 L244.3,179.4 L244.8,179.3 L245.3,179.2 L245.8,179.1 L246.3,179.1 L246.8,179.1 L247.3,179.2 L247.8,179.2 L248.3,179.2 L248.8,179.3 L249.3,179.3 L249.8,179.3 L250.3,179.3 L250.8,179.1 L251.3,178.9 L251.8,178.7 L252.3,178.5 L252.8,178.3 L253.3,178.0 L253.8,177.8 L254.3,177.6 L254.8,177.4 L255.3,177.2 L255.8,177.0 L256.3,176.8 L256.8,176.6 L257.3,176.4 L257.8,176.2 L258.3,176.0 L258.8,175.8 L259.3,175.6 L259.8,175.4 L260.3,175.3 L260.8,175.1 L261.3,175.0 L261.8,174.9 L262.3,174.7 L262.8,174.6 L263.3,174.4 L263.8,174.3 L264.3,174.1 L264.8,174.0 L265.3,173.9 L265.8,173.9 L266.3,173.8 L266.8,173.7 L267.3,173.7 L267.8,173.6 L268.3,173.5 L268.8,173.5 L269.3,173.4 L269.8,173.3 L270.3,173.3 L270.8,173.2 L271.3,173.2 L271.8,173.1 L272.3,173.0 L272.8,173.0 L273.3,172.9 L273.8,172.6 L274.3,172.3 L274.8,172.0 L275.3,171.8 L275.8,171.6 L276.3,171.4 L276.8,171.2 L277.3,171.0 L277.8,170.8 L278.3,170.6 L278.8,170.4 L279.3,170.2 L279.8,170.0 L280.3,169.8 L280.8,169.6 L281.3,169.4 L281.8,169.2 L282.3,169.0 L282.8,168.8 L283.3,168.6 L283.8,168.4 L284.3,168.2 L284.8,168.0 L285.3,167.9 L285.8,167.9 L286.3,167.8 L286.8,167.8 L287.3,167.7 L287.8,167.7 L288.3,167.6 L288.8,167.6 L289.3,167.5 L289.8,167.4 L290.3,167.4 L290.8,167.3 L291.3,167.3 L291.8,167.2 L292.3,167.1 L292.8,167.1 L293.3,167.0 L293.8,166.9 L294.3,166.9 L294.8,166.6 L295.3,166.2 L295.8,165.7 L296.3,165.3 L296.8,164.9 L297.3,164.4 L297.8,164.0 L298.3,163.6 L298.8,163.1 L299.3,162.7 L299.8,162.3 L300.3,161.9 L300.8,161.4 L301.3,161.0 L301.8,160.6 L302.3,160.1 L302.8,159.7 L303.3,159.3 L303.8,158.9 L304.3,158.4 L304.8,158.0 L305.3,157.7 L305.8,157.6 L306.3,157.4 L306.8,157.3 L307.3,157.1 L307.8,156.9 L308.3,156.8 L308.8,156.6 L309.3,156.5 L309.8,156.3 L310.3,156.2 L310.8,156.0 L311.3,155.8 L311.8,155.7 L312.3,155.5 L312.8,155.4 L313.3,155.2 L313.8,155.0 L314.3,154.9 L314.8,154.7 L315.3,154.6 L315.8,154.4 L316.3,154.0 L316.8,153.5 L317.3,152.9 L317.8,152.3 L318.3,151.8 L318.8,151.2 L319.3,150.6 L319.8,150.1 L320.3,149.5 L320.8,148.9 L321.3,148.4 L321.8,147.8 L322.3,147.2 L322.8,146.6 L323.3,146.1 L323.8,145.5 L324.3,144.9 L324.8,144.4 L325.3,143.8 L325.8,143.2 L326.3,142.9 L326.8,142.5 L327.3,142.2 L327.8,141.9 L328.3,141.5 L328.8,141.2 L329.3,140.9 L329.8,140.5 L330.3,140.2 L330.8,139.9 L330.8,189.0 L330.3,189.1 L329.8,189.2 L329.3,189.3 L328.8,189.4 L328.3,189.4 L327.8,189.5 L327.3,189.6 L326.8,189.7 L326.3,189.8 L325.8,189.9 L325.3,190.0 L324.8,190.1 L324.3,190.2 L323.8,190.2 L323.3,190.3 L322.8,190.4 L322.3,190.5 L321.8,190.6 L321.3,190.7 L320.8,190.8 L320.3,190.9 L319.8,191.0 L319.3,191.0 L318.8,191.1 L318.3,191.2 L317.8,191.3 L317.3,191.4 L316.8,191.5 L316.3,191.6 L315.8,191.7 L315.3,191.8 L314.8,191.9 L314.3,192.0 L313.8,192.1 L313.3,192.2 L312.8,192.3 L312.3,192.4 L311.8,192.5 L311.3,192.6 L310.8,192.7 L310.3,192.8 L309.8,192.9 L309.3,193.0 L308.8,193.1 L308.3,193.2 L307.8,193.3 L307.3,193.4 L306.8,193.5 L306.3,193.6 L305.8,193.7 L305.3,193.8 L304.8,194.0 L304.3,194.1 L303.8,194.3 L303.3,194.5 L302.8,194.6 L302.3,194.8 L301.8,195.0 L301.3,195.1 L300.8,195.3 L300.3,195.4 L299.8,195.6 L299.3,195.8 L298.8,195.9 L298.3,196.1 L297.8,196.3 L297.3,196.4 L296.8,196.6 L296.3,196.8 L295.8,196.9 L295.3,197.1 L294.8,197.3 L294.3,197.4 L293.8,197.6 L293.3,197.8 L292.8,197.9 L292.3,198.1 L291.8,198.2 L291.3,198.4 L290.8,198.6 L290.3,198.7 L289.8,198.9 L289.3,199.1 L288.8,199.2 L288.3,199.4 L287.8,199.6 L287.3,199.8 L286.8,199.9 L286.3,200.1 L285.8,200.3 L285.3,200.5 L284.8,200.7 L284.3,200.9 L283.8,201.1 L283.3,201.2 L282.8,201.4 L282.3,201.6 L281.8,201.8 L281.3,202.0 L280.8,202.2 L280.3,202.3 L279.8,202.5 L279.3,202.7 L278.8,202.9 L278.3,203.1 L277.8,203.3 L277.3,203.5 L276.8,203.6 L276.3,203.8 L275.8,204.0 L275.3,204.2 L274.8,204.3 L274.3,204.5 L273.8,204.6 L273.3,204.7 L272.8,204.8 L272.3,204.9 L271.8,205.0 L271.3,205.1 L270.8,205.2 L270.3,205.3 L269.8,205.4 L269.3,205.5 L268.8,205.7 L268.3,205.8 L267.8,205.9 L267.3,206.0 L266.8,206.1 L266.3,206.2 L265.8,206.3 L265.3,206.4 L264.8,206.5 L264.3,206.6 L263.8,206.8 L263.3,206.9 L262.8,207.0 L262.3,207.1 L261.8,207.2 L261.3,207.3 L260.8,207.4 L260.3,207.5 L259.8,207.6 L259.3,207.7 L258.8,207.8 L258.3,207.9 L257.8,207.9 L257.3,208.0 L256.8,208.0 L256.3,208.1 L255.8,208.1 L255.3,208.2 L254.8,208.2 L254.3,208.3 L253.8,208.3 L253.3,208.4 L252.8,208.4 L252.3,208.5 L251.8,208.5 L251.3,208.6 L250.8,208.6 L250.3,208.7 L249.8,208.7 L249.3,208.8 L248.8,208.8 L248.3,208.9 L247.8,208.9 L247.3,209.0 L246.8,209.0 L246.3,209.1 L245.8,209.1 L245.3,209.0 L244.8,209.0 L244.3,208.9 L243.8,208.8 L243.3,208.8 L242.8,208.7 L242.3,208.6 L241.8,208.5 L241.3,208.5 L240.8,208.4 L240.3,208.3 L239.8,208.3 L239.3,208.2 L238.8,208.2 L238.3,208.1 L237.8,208.1 L237.3,208.1 L236.8,208.0 L236.3,208.0 L235.8,207.9 L235.3,207.9 L234.8,207.8 L234.3,207.8 L233.8,207.7 L233.3,207.7 L232.8,207.7 L232.3,207.6 L231.8,207.6 L231.3,207.5 L230.8,207.5 L230.3,207.4 L229.8,207.4 L229.3,207.3 L228.8,207.3 L228.3,207.3 L227.8,207.2 L227.3,207.2 L226.8,207.1 L226.3,207.1 L225.8,207.0 L225.3,207.0 L224.8,206.9 L224.3,206.9 L223.8,206.8 L223.3,206.7 L222.8,206.6 L222.3,206.5 L221.8,206.4 L221.3,206.3 L220.8,206.2 L220.3,206.1 L219.8,206.0 L219.3,205.9 L218.8,205.8 L218.3,205.7 L217.8,205.6 L217.3,205.5 L216.8,205.4 L216.3,205.3 L215.8,205.2 L215.3,205.1 L214.8,205.0 L214.3,204.8 L213.8,204.7 L213.3,204.6 L212.8,204.5 L212.3,204.4 L211.8,204.3 L211.3,204.2 L210.8,204.1 L210.3,204.0 L209.8,203.9 L209.3,203.9 L208.8,203.8 L208.3,203.7 L207.8,203.6 L207.3,203.5 L206.8,203.4 L206.3,203.3 L205.8,203.2 L205.3,203.1 L204.8,203.0 L204.3,202.9 L203.8,202.8 L203.3,202.7 L202.8,202.6 L202.3,202.5 L201.8,202.4 L201.3,202.3 L200.8,202.2 L200.3,202.0 L199.8,201.8 L199.3,201.6 L198.8,201.4 L198.3,201.2 L197.8,201.0 L197.3,200.8 L196.8,200.6 L196.3,200.4 L195.8,200.2 L195.3,200.0 L194.8,199.7 L194.3,199.5 L193.8,199.3 L193.3,199.1 L192.8,198.9 L192.3,198.7 L191.8,198.5 L191.3,198.3 L190.8,198.1 L190.3,197.9 L189.8,197.7 L189.3,197.5 L188.8,197.3 L188.3,197.1 L187.8,196.9 L187.3,196.8 L186.8,196.6 L186.3,196.4 L185.8,196.2 L185.3,196.0 L184.8,195.8 L184.3,195.6 L183.8,195.4 L183.3,195.2 L182.8,195.0 L182.3,194.8 L181.8,194.6 L181.3,194.4 L180.8,194.2 L180.3,194.0 L179.8,193.8 L179.3,193.6 L178.8,193.4 L178.3,193.2 L177.8,193.0 L177.3,192.8 L176.8,192.5 L176.3,192.2 L175.8,191.9 L175.3,191.6 L174.8,191.3 L174.3,191.0 L173.8,190.7 L173.3,190.4 L172.8,190.1 L172.3,189.8 L171.8,189.6 L171.3,189.3 L170.8,189.0 L170.3,188.7 L169.8,188.6 L169.3,188.7 L168.8,188.9 L168.3,189.0 L167.8,189.2 L167.3,189.4 L166.8,189.5 L166.3,189.7 L165.8,189.9 L165.3,190.0 L164.8,190.2 L164.3,190.3 L163.8,190.5 L163.3,190.7 L162.8,190.8 L162.3,191.0 L161.8,191.2 L161.3,191.3 L160.8,191.5 L160.3,191.6 L159.8,191.8 L159.3,192.1 L158.8,192.3 L158.3,192.6 L157.8,192.8 L157.3,193.1 L156.8,193.3 L156.3,193.6 L155.8,193.8 L155.3,194.1 L154.8,194.3 L154.3,194.6 L153.8,194.8 L153.3,195.1 L152.8,195.3 L152.3,195.6 L151.8,195.8 L151.3,196.1 L150.8,196.3 L150.3,196.6 L149.8,196.8 L149.3,197.1 L148.8,197.3 L148.3,197.5 L147.8,197.6 L147.3,197.7 L146.8,197.8 L146.3,197.9 L145.8,198.0 L145.3,198.1 L144.8,198.2 L144.3,198.3 L143.8,198.4 L143.3,198.5 L142.8,198.6 L142.3,198.8 L141.8,198.9 L141.3,199.0 L140.8,199.1 L140.3,199.2 L139.8,199.3 L139.3,199.4 L138.8,199.5 L138.3,199.6 L137.8,199.7 L137.3,199.8 L136.8,199.9 L136.3,199.8 L135.8,199.7 L135.3,199.5 L134.8,199.4 L134.3,199.3 L133.8,199.2 L133.3,199.0 L132.8,198.9 L132.3,198.8 L131.8,198.6 L131.3,198.5 L130.8,198.4 L130.3,198.3 L129.8,198.1 L129.3,198.0 L128.8,197.9 L128.3,197.7 L127.8,197.6 L127.3,197.5 L126.8,197.4 L126.3,197.2 L125.8,197.1 L125.3,197.0 L124.8,196.8 L124.3,196.4 L123.8,196.1 L123.3,195.8 L122.8,195.5 L122.3,195.1 L121.8,194.8 L121.3,194.5 L120.8,194.1 L120.3,193.8 L119.8,193.5 L119.3,193.2 L118.8,192.8 L118.3,192.5 L117.8,192.2 L117.3,191.9 L116.8,191.5 L116.3,191.2 L115.8,190.9 L115.3,190.5 L114.8,190.2 L114.3,189.9 L113.8,189.6 L113.3,189.2 L112.8,188.8 L112.3,188.4 L111.8,188.0 L111.3,187.6 L110.8,187.2 L110.3,186.8 L109.8,186.4 L109.3,186.0 L108.8,185.6 L108.3,185.2 L107.8,184.8 L107.3,184.5 L106.8,184.1 L106.3,183.7 L105.8,183.3 L105.3,182.9 L104.8,182.5 L104.3,182.1 L103.8,181.7 L103.3,181.3 L102.8,180.9 L102.3,180.5 L101.8,180.1 L101.3,179.6 L100.8,179.1 L100.3,178.6 L99.8,178.1 L99.3,177.7 L98.8,177.2 L98.3,176.7 L97.8,176.2 L97.3,175.7 L96.8,175.2 L96.3,174.7 L95.8,174.2 L95.3,173.7 L94.8,173.2 L94.3,172.8 L93.8,172.3 L93.3,171.8 L92.8,171.3 L92.3,170.8 L91.8,170.2 L91.3,169.6 L90.8,169.0 L90.3,168.4 L89.8,167.8 L89.3,167.2 L88.8,166.6 L88.3,166.0 L87.8,165.4 L87.3,164.8 L86.8,164.2 L86.3,163.6 L85.8,163.0 L85.3,162.4 L84.8,161.8 L84.3,161.2 L83.8,160.6 L83.3,160.0 L82.8,159.4 L82.3,158.8 L81.8,158.2 L81.3,157.6 L80.8,157.0 L80.3,156.4 L79.8,155.8 L79.3,155.2 L78.8,154.6 L78.3,154.0 L77.8,153.4 L77.3,152.9 L76.8,152.3 L76.3,151.7 L75.8,151.1 L75.3,150.5 L74.8,149.9 L74.3,149.3 L73.8,148.7 L73.3,148.1 L72.8,147.5 L72.3,146.8 L71.8,145.9 L71.3,144.9 L70.8,144.0 L70.3,143.1 L69.8,142.1 L69.3,141.2 L68.8,140.3 L68.3,139.4 L67.8,138.4 L67.3,137.5 L66.8,136.6 L66.3,135.6 L65.8,134.7 L65.3,133.8 L64.8,132.8 L64.3,131.9 L63.8,131.0 L63.3,130.0 L62.8,129.1 L62.3,128.2 L61.8,127.2 L61.3,126.3 L60.8,125.4 L60.3,124.0 L59.8,122.0 Z" fill="#bbb" fill-opacity="0.5"/>
<line x1="57.5" y1="190.90" x2="333.5" y2="190.90" stroke="#222" stroke-width="1.5"/>
<path d="M96.50,156.18 L97.50,157.29 L98.50,158.39 L99.50,159.50 L100.50,160.50 L101.50,161.50 L102.50,162.50M111.70,170.22 L112.98,170.99 L114.27,171.76 L115.55,172.53 L116.83,173.24 L118.12,173.95 L119.40,174.65M131.30,179.97 L132.72,180.42 L134.13,180.87 L135.55,181.30 L136.97,181.18 L138.38,181.06 L139.80,180.94M152.50,178.72 L154.08,178.46 L155.67,178.20 L157.25,177.95 L158.83,177.69 L160.42,177.52 L162.00,177.59M174.30,179.30 L175.95,179.88 L177.60,180.47 L179.25,181.05 L180.90,181.63 L182.55,182.22 L184.20,182.80M194.80,187.05 L196.55,187.24 L198.30,187.43 L200.05,187.62 L201.80,187.80 L203.55,187.99 L205.30,188.18M217.40,194.00 L219.05,194.03 L220.70,194.07 L222.35,194.10 L224.00,194.13 L225.65,194.17 L227.30,194.20M240.50,194.20 L242.12,194.17 L243.73,194.13 L245.35,194.10 L246.97,194.07 L248.58,194.03 L250.20,194.00M264.00,190.45 L265.58,190.13 L267.17,189.85 L268.75,189.58 L270.33,189.30 L271.92,189.02 L273.50,188.68M284.90,184.30 L286.50,183.93 L288.10,183.57 L289.70,183.20 L291.30,182.83 L292.90,182.47 L294.50,182.10M305.30,175.75 L307.05,175.30 L308.80,174.85 L310.55,174.40 L312.30,173.95 L314.05,173.50 L315.80,173.05M325.90,166.50 L326.77,166.13 L327.63,165.77 L328.50,165.40 L329.37,165.03 L330.23,164.67 L331.10,164.30" fill="none" stroke="#6a6a6a" stroke-width="2.6"/>
<polyline points="60.3,93.8 65.0,103.5 70.0,114.0 75.0,124.0 80.0,133.6 86.4,144.9 90.0,150.6 96.0,158.3 100.7,163.3 104.5,167.6 109.6,172.5 117.3,177.4 123.4,181.0 126.0,182.3 129.1,184.2 135.0,185.6 138.8,185.2 143.0,183.2 147.6,180.6 152.0,178.3 159.1,175.4 167.0,174.5 176.7,175.3 185.0,176.3 190.0,177.3 198.2,178.8 205.0,180.6 211.4,182.2 218.0,183.8 224.6,185.2 231.0,186.3 237.9,186.6 245.0,186.6 255.0,186.1 266.4,184.6 274.9,183.0 285.0,180.3 292.0,178.0 299.4,175.5 306.0,172.8 312.6,170.0 322.3,165.8 330.7,161.3" fill="none" stroke="#151515" stroke-width="3.1" stroke-linejoin="round"/>
<g fill="#1a1a1a"><circle cx="59.90" cy="46.80" r="2.75"/><circle cx="62.40" cy="78.60" r="2.75"/><circle cx="64.90" cy="59.60" r="2.75"/><circle cx="67.50" cy="22.00" r="2.75"/><circle cx="69.90" cy="122.20" r="2.75"/><circle cx="72.50" cy="43.60" r="2.75"/><circle cx="75.10" cy="76.30" r="2.75"/><circle cx="77.40" cy="196.70" r="2.75"/><circle cx="80.00" cy="94.30" r="2.75"/><circle cx="82.50" cy="231.10" r="2.75"/><circle cx="85.00" cy="201.90" r="2.75"/><circle cx="87.60" cy="189.70" r="2.75"/><circle cx="90.30" cy="260.00" r="2.75"/><circle cx="93.00" cy="125.00" r="2.75"/><circle cx="95.50" cy="124.50" r="2.75"/><circle cx="97.30" cy="212.70" r="2.75"/><circle cx="100.20" cy="253.90" r="2.75"/><circle cx="102.60" cy="107.50" r="2.75"/><circle cx="104.90" cy="206.60" r="2.75"/><circle cx="107.50" cy="269.00" r="2.75"/><circle cx="110.20" cy="172.20" r="2.75"/><circle cx="112.80" cy="230.50" r="2.75"/><circle cx="115.20" cy="255.00" r="2.75"/><circle cx="117.30" cy="196.70" r="2.75"/><circle cx="120.10" cy="141.90" r="2.75"/><circle cx="122.75" cy="167.30" r="2.75"/><circle cx="125.26" cy="266.90" r="2.75"/><circle cx="127.77" cy="149.10" r="2.75"/><circle cx="130.28" cy="184.00" r="2.75"/><circle cx="132.78" cy="190.80" r="2.75"/><circle cx="135.29" cy="206.60" r="2.75"/><circle cx="137.80" cy="144.30" r="2.75"/><circle cx="140.30" cy="151.00" r="2.75"/><circle cx="142.81" cy="107.30" r="2.75"/><circle cx="145.32" cy="147.20" r="2.75"/><circle cx="147.82" cy="178.80" r="2.75"/><circle cx="150.33" cy="154.20" r="2.75"/><circle cx="152.84" cy="191.00" r="2.75"/><circle cx="155.34" cy="155.10" r="2.75"/><circle cx="157.85" cy="170.00" r="2.75"/><circle cx="160.36" cy="195.90" r="2.75"/><circle cx="162.87" cy="116.30" r="2.75"/><circle cx="165.37" cy="206.30" r="2.75"/><circle cx="167.88" cy="171.30" r="2.75"/><circle cx="170.39" cy="215.40" r="2.75"/><circle cx="172.89" cy="195.40" r="2.75"/><circle cx="175.40" cy="215.10" r="2.75"/><circle cx="177.91" cy="190.60" r="2.75"/><circle cx="180.42" cy="122.20" r="2.75"/><circle cx="182.92" cy="219.50" r="2.75"/><circle cx="185.43" cy="190.80" r="2.75"/><circle cx="187.94" cy="191.00" r="2.75"/><circle cx="190.44" cy="152.40" r="2.75"/><circle cx="192.95" cy="195.50" r="2.75"/><circle cx="195.46" cy="209.40" r="2.75"/><circle cx="197.96" cy="143.30" r="2.75"/><circle cx="200.47" cy="172.20" r="2.75"/><circle cx="202.98" cy="195.40" r="2.75"/><circle cx="205.49" cy="148.40" r="2.75"/><circle cx="207.99" cy="168.00" r="2.75"/><circle cx="210.50" cy="123.10" r="2.75"/><circle cx="213.01" cy="164.40" r="2.75"/><circle cx="215.51" cy="134.10" r="2.75"/><circle cx="218.02" cy="182.00" r="2.75"/><circle cx="220.53" cy="250.30" r="2.75"/><circle cx="223.03" cy="182.50" r="2.75"/><circle cx="225.54" cy="165.10" r="2.75"/><circle cx="228.05" cy="135.60" r="2.75"/><circle cx="230.56" cy="198.90" r="2.75"/><circle cx="233.06" cy="269.80" r="2.75"/><circle cx="235.57" cy="212.10" r="2.75"/><circle cx="238.08" cy="177.70" r="2.75"/><circle cx="240.58" cy="207.90" r="2.75"/><circle cx="243.09" cy="215.70" r="2.75"/><circle cx="245.60" cy="269.50" r="2.75"/><circle cx="248.10" cy="177.50" r="2.75"/><circle cx="250.61" cy="155.10" r="2.75"/><circle cx="253.12" cy="142.70" r="2.75"/><circle cx="255.62" cy="96.30" r="2.75"/><circle cx="258.13" cy="170.00" r="2.75"/><circle cx="260.64" cy="270.30" r="2.75"/><circle cx="263.15" cy="182.00" r="2.75"/><circle cx="265.65" cy="199.10" r="2.75"/><circle cx="268.16" cy="283.60" r="2.75"/><circle cx="270.67" cy="181.90" r="2.75"/><circle cx="273.17" cy="138.50" r="2.75"/><circle cx="275.68" cy="186.50" r="2.75"/><circle cx="278.19" cy="207.70" r="2.75"/><circle cx="280.69" cy="177.70" r="2.75"/><circle cx="283.20" cy="127.50" r="2.75"/><circle cx="285.71" cy="195.00" r="2.75"/><circle cx="288.22" cy="145.40" r="2.75"/><circle cx="290.72" cy="122.20" r="2.75"/><circle cx="293.23" cy="186.50" r="2.75"/><circle cx="295.74" cy="131.40" r="2.75"/><circle cx="298.24" cy="194.60" r="2.75"/><circle cx="300.75" cy="202.00" r="2.75"/><circle cx="303.26" cy="190.40" r="2.75"/><circle cx="305.76" cy="190.40" r="2.75"/><circle cx="308.27" cy="133.00" r="2.75"/><circle cx="310.78" cy="209.10" r="2.75"/><circle cx="313.29" cy="125.90" r="2.75"/><circle cx="315.79" cy="138.70" r="2.75"/><circle cx="318.30" cy="164.70" r="2.75"/><circle cx="320.81" cy="208.80" r="2.75"/><circle cx="323.31" cy="198.50" r="2.75"/><circle cx="325.82" cy="201.60" r="2.75"/><circle cx="328.33" cy="144.50" r="2.75"/><circle cx="330.84" cy="134.20" r="2.75"/></g>
</g>
<g clip-path="url(#cb)" fill="none" stroke="#1a1a1a" stroke-width="1.4" stroke-linejoin="round">
<polyline points="410.6,295.1 412.5,288.0 413.4,284.5 414.2,286.0 415.2,276.0 416.5,267.7 418.3,258.7 420.9,251.0 422.9,238.2 424.0,229.4 425.4,221.4 427.6,219.9 429.1,215.5 430.5,209.0 431.3,208.2 432.4,211.9 434.2,212.2 439.3,212.2 441.8,219.0 444.1,212.6 445.7,203.5 447.0,204.4 448.8,207.0 451.0,212.3 452.3,211.9 453.7,200.9 455.4,202.2 457.6,204.4 459.8,208.8 461.1,208.3 462.9,211.0 465.0,216.0 467.0,219.2 469.2,218.5 471.4,214.1 473.6,208.2 475.5,213.0 477.3,216.5 478.7,208.2 482.3,200.4 486.7,199.5 488.5,193.8 490.7,189.8 493.4,179.2 497.0,169.0 500.7,158.8 505.3,153.9 508.2,143.2 512.6,140.0 513.6,129.1 519.2,129.5 521.4,131.3 525.0,134.2 530.1,139.3 533.8,130.5 537.4,136.4 541.8,136.0 546.2,140.0 549.9,135.7 554.2,132.0 556.5,135.1 559.4,127.0 563.0,120.5 566.0,114.7 568.9,110.3 571.1,112.5 572.5,116.9 576.9,115.4 579.1,111.8 581.3,104.5 583.5,106.0 584.9,115.4 586.4,122.0 588.6,124.9 592.2,123.5 595.1,130.0 597.3,136.6 599.5,142.4 601.7,141.7 605.4,131.5 608.3,120.5 611.2,111.8 612.7,119.1 613.4,124.2 618.5,123.5 620.7,130.0 622.4,136.6 625.1,133.7 628.0,128.6 631.6,130.0 634.6,124.9 638.2,118.4 641.0,115.0 643.6,113.4 645.2,104.0 646.7,99.4 648.8,94.7 651.9,100.2 656.9,102.5 661.6,97.8 663.9,97.8 666.3,91.6 669.1,80.6 672.5,72.0 674.4,73.6 678.8,79.4" stroke-dasharray="4.5,4"/>
<polyline points="410.6,295.1 412.5,288.0 413.4,284.5 414.2,286.0 415.2,276.0 416.5,267.7 418.3,258.7 420.9,251.0 422.9,238.2 424.0,229.4 425.4,221.4 427.6,219.9 429.1,215.5 430.5,209.0 431.3,208.2 432.4,211.9 434.2,212.2 439.3,212.2 441.8,219.0 444.1,212.6 445.7,203.5 447.0,204.4 448.8,207.0 451.0,212.3 452.3,211.9 453.7,200.9 455.4,202.2 457.6,204.4 459.8,208.8 461.1,208.3 462.9,211.0 465.0,216.0 467.0,219.2 469.2,218.5 471.4,214.1 473.6,208.2 475.5,213.0 477.3,216.5 479.5,208.2 481.0,208.3 483.2,207.9 485.8,208.1 487.6,205.3 490.7,200.4 492.6,195.5 493.6,185.0 497.0,177.7 501.4,169.7 504.3,169.0 508.7,161.0 511.6,156.0 512.6,150.0 514.1,146.6 517.0,148.1 519.9,145.6 522.1,148.1 524.7,148.5 526.5,151.0 530.1,151.0 533.1,141.5 534.5,144.1 540.4,143.2 542.6,137.1 545.5,137.8 547.2,140.0 549.9,134.2 552.8,130.5 555.0,130.0 557.9,124.0 560.8,119.5 563.0,113.8 565.2,106.6 567.8,96.4 570.8,94.9 573.7,101.8 576.6,97.1 580.5,84.7 584.2,85.4 586.4,95.7 588.6,100.0 591.5,98.9 595.1,103.7 598.8,114.6 601.7,110.3 604.6,106.6 607.3,94.2 608.7,83.2 610.8,80.3 612.7,86.9 614.1,92.7 616.3,92.0 618.5,92.7 620.7,107.3 623.6,106.6 626.5,96.4 628.7,96.4 631.2,97.8 633.8,95.7 636.0,89.8 637.5,84.0 639.0,83.2 641.1,79.6 643.2,74.5 644.4,68.8 645.6,63.1 647.3,62.5 648.1,57.5 648.8,51.3 650.0,50.6 653.8,51.9 655.8,53.5 659.0,53.5 662.1,43.6 663.8,46.5 666.0,39.2 668.5,30.4 670.4,23.1 672.3,16.6 674.8,18.0 677.7,19.9 679.9,20.5"/>
</g>
<rect x="57.5" y="10.5" width="276.0" height="296.0" fill="none" stroke="#5e5e5e" stroke-width="1.1"/>
<rect x="406.5" y="10.5" width="278.0" height="296.0" fill="none" stroke="#5e5e5e" stroke-width="1.1"/>
<path d="M67.60,306.5L67.60,310.0M415.90,306.5L415.90,310.0M117.74,306.5L117.74,310.0M466.71,306.5L466.71,310.0M167.88,306.5L167.88,310.0M517.52,306.5L517.52,310.0M218.02,306.5L218.02,310.0M568.33,306.5L568.33,310.0M268.16,306.5L268.16,310.0M619.14,306.5L619.14,310.0M318.30,306.5L318.30,310.0M669.95,306.5L669.95,310.0M54.0,294.22L57.5,294.22M54.0,242.56L57.5,242.56M54.0,190.90L57.5,190.90M54.0,139.24L57.5,139.24M54.0,87.58L57.5,87.58M54.0,35.92L57.5,35.92M403.0,240.30L406.5,240.30M403.0,170.40L406.5,170.40M403.0,100.50L406.5,100.50M403.0,30.60L406.5,30.60" stroke="#222" stroke-width="1.3" fill="none"/>
<g font-family='"Liberation Sans", sans-serif' font-size="12.6" fill="#262626" stroke="#262626" stroke-width="0.25">
<text x="67.60" y="329.2" text-anchor="middle">1775</text>
<text x="415.90" y="329.2" text-anchor="middle">1775</text>
<text x="117.74" y="329.2" text-anchor="middle">1795</text>
<text x="466.71" y="329.2" text-anchor="middle">1795</text>
<text x="167.88" y="329.2" text-anchor="middle">1815</text>
<text x="517.52" y="329.2" text-anchor="middle">1815</text>
<text x="218.02" y="329.2" text-anchor="middle">1835</text>
<text x="568.33" y="329.2" text-anchor="middle">1835</text>
<text x="268.16" y="329.2" text-anchor="middle">1855</text>
<text x="619.14" y="329.2" text-anchor="middle">1855</text>
<text x="318.30" y="329.2" text-anchor="middle">1875</text>
<text x="669.95" y="329.2" text-anchor="middle">1875</text>
<text x="46.4" y="298.52" text-anchor="end">0.96</text>
<text x="46.4" y="246.86" text-anchor="end">0.98</text>
<text x="46.4" y="195.20" text-anchor="end">1.00</text>
<text x="46.4" y="143.54" text-anchor="end">1.02</text>
<text x="46.4" y="91.88" text-anchor="end">1.04</text>
<text x="46.4" y="40.22" text-anchor="end">1.06</text>
<text x="394.3" y="244.60" text-anchor="end">400</text>
<text x="394.3" y="174.70" text-anchor="end">500</text>
<text x="394.3" y="104.80" text-anchor="end">600</text>
<text x="394.3" y="34.90" text-anchor="end">700</text>
</g>
<g font-family='"Liberation Sans", sans-serif' font-size="13" fill="#000" stroke="#000" stroke-width="0.2">
<text x="192.9" y="348.8" text-anchor="middle">Year</text>
<text x="541.7" y="348.2" text-anchor="middle">Year</text>
<text transform="translate(12,165.2) rotate(-90)" text-anchor="middle">Population growth rate</text>
<text transform="translate(361.2,159.3) rotate(-90)" text-anchor="middle">Population size</text>
</g>
<g font-family='"Liberation Sans", sans-serif' font-size="17.2" font-weight="bold" fill="#000">
<text x="0.2" y="15.9">a</text>
<text x="349.9" y="15.9">b</text>
</g>
</svg></body></html>
